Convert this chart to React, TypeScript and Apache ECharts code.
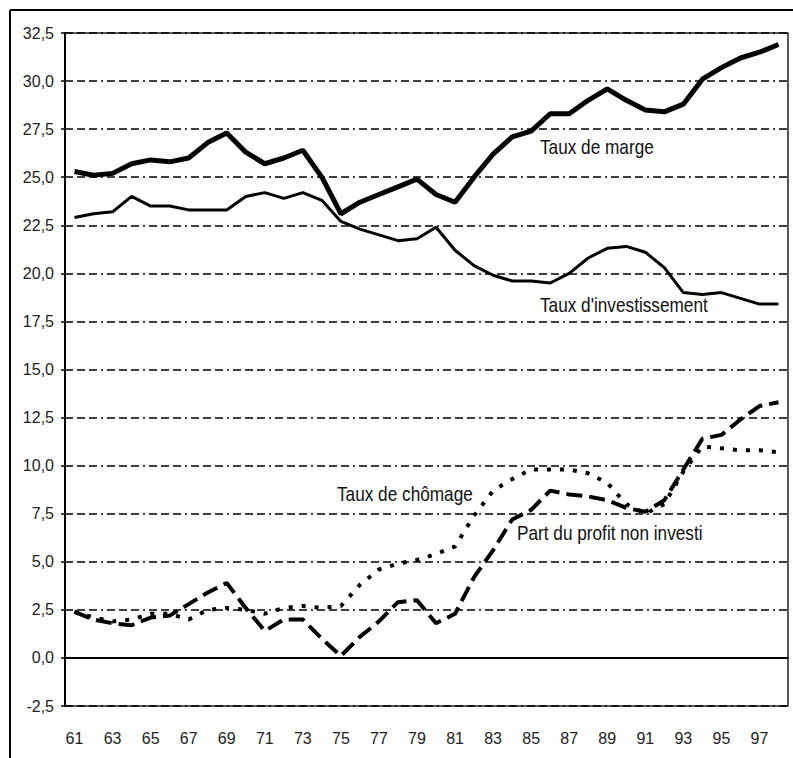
import React, { useEffect, useRef } from "react";
import * as echarts from "echarts";

const years = [
  "61","62","63","64","65","66","67","68","69","70",
  "71","72","73","74","75","76","77","78","79","80",
  "81","82","83","84","85","86","87","88","89","90",
  "91","92","93","94","95","96","97","98",
];

const tauxMarge = [
  25.3, 25.1, 25.2, 25.7, 25.9, 25.8, 26.0, 26.8, 27.3, 26.3,
  25.7, 26.0, 26.4, 25.0, 23.1, 23.7, 24.1, 24.5, 24.9, 24.1,
  23.7, 25.0, 26.2, 27.1, 27.4, 28.3, 28.3, 29.0, 29.6, 29.0,
  28.5, 28.4, 28.8, 30.1, 30.7, 31.2, 31.5, 31.9,
];

const tauxInvestissement = [
  22.9, 23.1, 23.2, 24.0, 23.5, 23.5, 23.3, 23.3, 23.3, 24.0,
  24.2, 23.9, 24.2, 23.8, 22.7, 22.3, 22.0, 21.7, 21.8, 22.4,
  21.2, 20.4, 19.9, 19.6, 19.6, 19.5, 20.0, 20.8, 21.3, 21.4,
  21.1, 20.3, 19.0, 18.9, 19.0, 18.7, 18.4, 18.4,
];

const tauxChomage = [
  2.4, 2.1, 1.9, 2.0, 2.3, 2.3, 2.0, 2.5, 2.6, 2.5,
  2.3, 2.6, 2.7, 2.6, 2.7, 3.8, 4.6, 4.9, 5.1, 5.4,
  5.8, 7.4, 8.7, 9.3, 9.8, 9.8, 9.8, 9.6, 9.1, 8.0,
  7.5, 8.0, 9.7, 11.0, 10.9, 10.8, 10.8, 10.7,
];

const profitNonInvesti = [
  2.4, 2.0, 1.8, 1.7, 2.1, 2.2, 2.8, 3.4, 3.9, 2.6,
  1.4, 2.0, 2.0, 1.0, 0.1, 1.1, 1.9, 2.9, 3.0, 1.8,
  2.3, 4.2, 5.6, 7.2, 7.7, 8.7, 8.5, 8.4, 8.2, 7.8,
  7.6, 8.2, 9.8, 11.4, 11.6, 12.4, 13.1, 13.3,
];

const yMin = -2.5;
const yMax = 32.5;
const yStep = 2.5;

const labels = [
  { text: "Taux de marge", x: 540, y: 147 },
  { text: "Taux d'investissement", x: 540, y: 305 },
  { text: "Taux de chômage", x: 337, y: 494 },
  { text: "Part du profit non investi", x: 517, y: 533 },
];

const FONT = "'Liberation Sans', Arial, sans-serif";

export default function App() {
  const ref = useRef<HTMLDivElement>(null);

  useEffect(() => {
    if (!ref.current) return;
    const chart = echarts.init(ref.current, null, { renderer: "svg" });
    const option: any = {
      animation: false,
      backgroundColor: "#ffffff",
      textStyle: { fontFamily: FONT },
      grid: {
        left: 65,
        right: 5,
        top: 33,
        bottom: 52,
        show: true,
        borderColor: "#222",
        borderWidth: 1.5,
        backgroundColor: "transparent",
      },
      xAxis: {
        type: "category",
        data: years,
        boundaryGap: true,
        axisLine: { show: true, lineStyle: { color: "#000", width: 2 } },
        axisTick: { show: false },
        axisLabel: {
          interval: 1,
          margin: 24,
          fontSize: 16,
          color: "#222",
          fontFamily: FONT,
        },
        splitLine: { show: false },
      },
      yAxis: {
        type: "value",
        min: yMin,
        max: yMax,
        interval: yStep,
        axisLine: { show: true, lineStyle: { color: "#000", width: 2 } },
        axisTick: { show: true, inside: false, length: 4, lineStyle: { color: "#000", width: 1.5 } },
        axisLabel: {
          margin: 11,
          fontSize: 16,
          color: "#222",
          fontFamily: FONT,
          formatter: (v: number) => v.toFixed(1).replace(".", ","),
        },
        splitLine: {
          show: true,
          lineStyle: { color: "#000", width: 1.6, type: [8, 4, 8, 4, 8, 4, 2, 4] },
        },
      },
      series: [
        {
          name: "Taux de marge",
          type: "line",
          data: tauxMarge,
          symbol: "none",
          lineStyle: { color: "#000", width: 5 },
          z: 5,
        },
        {
          name: "Taux d'investissement",
          type: "line",
          data: tauxInvestissement,
          symbol: "none",
          lineStyle: { color: "#000", width: 3 },
          z: 5,
        },
        {
          name: "Taux de chômage",
          type: "line",
          data: tauxChomage,
          symbol: "none",
          lineStyle: { color: "#000", width: 4, type: [4, 9], cap: "butt" },
          z: 5,
        },
        {
          name: "Part du profit non investi",
          type: "line",
          data: profitNonInvesti,
          symbol: "none",
          lineStyle: { color: "#000", width: 4, type: [16, 7], cap: "butt" },
          z: 5,
        },
      ],
      graphic: [
        {
          type: "line",
          shape: { x1: 10, y1: 10, x2: 793, y2: 10 },
          style: { stroke: "#000", lineWidth: 2 },
        },
        {
          type: "line",
          shape: { x1: 10, y1: 10, x2: 10, y2: 758 },
          style: { stroke: "#000", lineWidth: 2 },
        },
        ...labels.map((l) => ({
          type: "text",
          x: l.x,
          y: l.y,
          scaleX: 0.82,
          z: 10,
          style: {
            text: l.text,
            fill: "#111",
            font: `21px ${FONT}`,
            textAlign: "left",
            textVerticalAlign: "middle",
          },
        })),
      ],
    };
    chart.setOption(option);
    return () => chart.dispose();
  }, []);

  return (
    <div
      ref={ref}
      style={{ position: "absolute", left: 0, top: 0, width: 793, height: 758 }}
    />
  );
}
